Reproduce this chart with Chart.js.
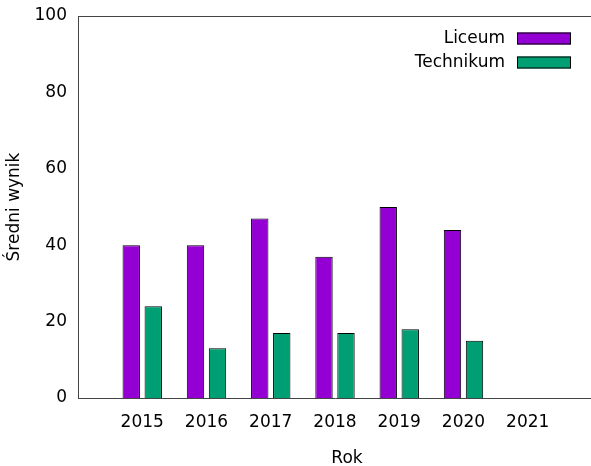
<!DOCTYPE html>
<html>
<head>
<meta charset="utf-8">
<script src="https://cdn.jsdelivr.net/npm/chart.js@4/dist/chart.umd.min.js"></script>
<style>
html,body{margin:0;padding:0;background:#fff;overflow:hidden;}
canvas{display:block;}
</style>
</head>
<body>
<canvas id="c" width="592" height="466"></canvas>
<script>
const years = [2015, 2016, 2017, 2018, 2019, 2020, 2021];
const liceum = [40, 40, 47, 37, 50, 44, null];
const technikum = [24, 13, 17, 17, 18, 15, null];
const yTicks = [0, 20, 40, 60, 80, 100];
const seriesNames = ['Liceum', 'Technikum'];
const xTitle = 'Rok';
const yTitle = 'Średni wynik';

const FONT = 'DejaVu Sans';
const AXIS_COLOR = '#444';

const extras = {
  id: 'extras',
  afterDraw(chart) {
    const ctx = chart.ctx;
    const a = chart.chartArea;
    ctx.save();
    // top border
    ctx.strokeStyle = AXIS_COLOR;
    ctx.lineWidth = 1;
    ctx.beginPath();
    ctx.moveTo(a.left, a.top + 0.5);
    ctx.lineTo(a.right, a.top + 0.5);
    ctx.stroke();
    // legend
    ctx.font = '17px "' + FONT + '"';
    ctx.textAlign = 'right';
    ctx.textBaseline = 'middle';
    chart.data.datasets.forEach((ds, i) => {
      const y = 38.5 + i * 24;
      ctx.fillStyle = '#000';
      ctx.fillText(ds.label, 505, y);
      ctx.fillStyle = ds.backgroundColor;
      ctx.fillRect(517, y - 6, 54, 12);
      ctx.strokeStyle = '#000';
      ctx.strokeRect(517.5, y - 5.5, 53, 11);
    });
    // x title
    ctx.textAlign = 'center';
    ctx.fillStyle = '#000';
    ctx.fillText(xTitle, 347, 459);
    ctx.restore();
  }
};

new Chart(document.getElementById('c'), {
  type: 'bar',
  data: {
    datasets: [
      {
        label: seriesNames[0],
        data: years.map((y, i) => ({x: y, y: liceum[i]})),
        backgroundColor: '#9400d3',
        borderColor: '#000',
        borderWidth: 1,
        categoryPercentage: 0.685,
        barPercentage: 0.79
      },
      {
        label: seriesNames[1],
        data: years.map((y, i) => ({x: y, y: technikum[i]})),
        backgroundColor: '#009e73',
        borderColor: '#000',
        borderWidth: 1,
        categoryPercentage: 0.685,
        barPercentage: 0.79
      }
    ]
  },
  options: {
    responsive: false,
    animation: false,
    layout: {padding: {top: 16, right: 0, left: 0, bottom: 0}},
    plugins: {
      legend: {display: false},
      tooltip: {enabled: false}
    },
    scales: {
      x: {
        type: 'linear',
        offset: false,
        min: years[0] - 1,
        max: years[years.length - 1] + 1,
        afterBuildTicks: s => { s.ticks = years.map(v => ({value: v})); },
        afterFit: s => { s.height = 68; s.paddingLeft = 0; s.paddingRight = 0; },
        grid: {display: false, drawTicks: false, offset: false},
        border: {display: true, color: AXIS_COLOR, width: 1},
        ticks: {
          autoSkip: false,
          maxRotation: 0,
          padding: 14,
          color: '#000',
          font: {family: FONT, size: 17},
          callback: v => String(v)
        }
      },
      y: {
        min: 0,
        max: 100,
        afterBuildTicks: s => { s.ticks = yTicks.map(v => ({value: v})); },
        afterFit: s => { s.width = 78; s.paddingTop = 0; s.paddingBottom = 0; },
        grid: {display: false, drawTicks: false},
        border: {display: true, color: AXIS_COLOR, width: 1},
        ticks: {
          padding: 11,
          color: '#000',
          font: {family: FONT, size: 17}
        },
        title: {
          display: true,
          text: yTitle,
          color: '#000',
          font: {family: FONT, size: 17},
          padding: {top: 4, bottom: 0}
        }
      }
    }
  },
  plugins: [extras]
});
</script>
</body>
</html>
